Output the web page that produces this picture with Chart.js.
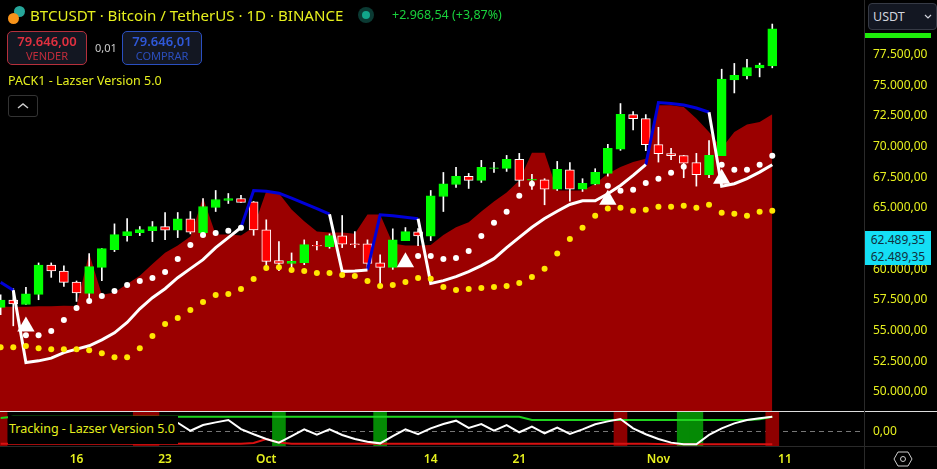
<!DOCTYPE html>
<html>
<head>
<meta charset="utf-8">
<title>BTCUSDT</title>
<script src="https://cdn.jsdelivr.net/npm/chart.js@4/dist/chart.umd.min.js"></script>
<style>
    html, body { margin: 0; padding: 0; background: #000; width: 937px; height: 469px; overflow: hidden; }
    body, div, span { font-family: "Noto Sans", sans-serif; }
    canvas { position: absolute; left: 0; display: block; }
    #main { top: 0; }
    #tracking { top: 412px; }
    .abs { position: absolute; white-space: nowrap; }
    .yellow { color: #e6f01e; }
    .quote { position: absolute; top: 31px; width: 78px; height: 32px; border-radius: 5px; background: #131722; text-align: center; }
    .quote b { display: block; font-weight: 600; font-size: 13px; line-height: 15px; margin-top: 2px; }
    .quote span { display: block; font-size: 11px; line-height: 13px; opacity: .85; }
</style>
</head>
<body>
<canvas id="main" width="937" height="412"></canvas>
<canvas id="tracking" width="937" height="57"></canvas>

<div class="abs" style="left:0;top:411px;width:937px;height:1px;background:#ddd"></div>
<div class="abs" style="left:0;top:446px;width:937px;height:1px;background:#2a2a2a"></div>
<div class="abs" style="left:864px;top:0;width:1px;height:469px;background:#2a2a2a"></div>

<div class="abs" style="left:14px;top:6px;width:11px;height:11px;border-radius:50%;background:#26a69a"></div>
<div class="abs" style="left:8px;top:13px;width:11px;height:11px;border-radius:50%;background:#f7931a"></div>
<div class="abs yellow" style="left:30px;top:4px;font-size:15.1px;line-height:22px">BTCUSDT · Bitcoin / TetherUS · 1D · BINANCE</div>
<div class="abs" style="left:358px;top:7px;width:16px;height:16px;border-radius:50%;background:#0b3a33"></div>
<div class="abs" style="left:362px;top:11px;width:8px;height:8px;border-radius:50%;background:#12a58a"></div>
<div class="abs" style="left:392px;top:6px;font-size:12.5px;line-height:18px;color:#19d13c">+2.968,54 (+3,87%)</div>

<div class="quote" style="left:7px;border:1px solid #b5303c;color:#e0303f"><b>79.646,00</b><span>VENDER</span></div>
<div class="abs" style="left:95px;top:41px;font-size:11px;line-height:14px;color:#ccc">0,01</div>
<div class="quote" style="left:122px;border:1px solid #2a4fc0;color:#2f58d8"><b>79.646,01</b><span>COMPRAR</span></div>
<div class="abs yellow" style="left:8px;top:72px;font-size:12.5px;line-height:18px">PACK1 - Lazser Version 5.0</div>
<div class="abs" style="left:8px;top:95px;width:28px;height:20px;border:1px solid #333;border-radius:3px;color:#ccc">
    <svg width="28" height="20"><path d="M9 12 L14 8 L19 12" fill="none" stroke="#ccc" stroke-width="1.5"/></svg>
</div>

<div class="abs" style="left:868px;top:3px;width:67px;height:25px;background:#131722;border:1px solid #363a45;border-radius:4px;color:#d1d4dc;font-size:12.5px;line-height:25px;text-indent:4px">USDT<svg style="position:absolute;right:4px;top:10px" width="8" height="6"><path d="M1 1 L4 4 L7 1" fill="none" stroke="#d1d4dc" stroke-width="1.2"/></svg></div>
<div class="abs" style="left:865px;top:33px;width:66px;height:5px;background:#1eee0a"></div>

<div class="abs" style="left:865px;top:231px;width:66px;height:34px;background:#14dff5;color:#103040;font-size:12px;line-height:17px;text-align:center">62.489,35<br>62.489,35</div>

<div class="abs yellow" style="left:8px;top:416px;width:170px;height:28px;background:#000;font-size:12.5px;line-height:26px;text-indent:1px">Tracking - Lazser Version 5.0</div>

<svg class="abs" style="left:893px;top:450px" width="20" height="18">
    <path d="M5 2 L15 2 L19 9 L15 16 L5 16 L1 9 Z" fill="none" stroke="#ccc" stroke-width="1"/>
    <circle cx="10" cy="9" r="2.5" fill="none" stroke="#ccc" stroke-width="1"/>
</svg>

<script>
    'use strict';

    // days counted from 11 Sep, one candle per day
    const days = [-1, 0, 1, 2, 3, 4, 5, 6, 7, 8, 9, 10, 11, 12, 13, 14, 15, 16, 17, 18, 19, 20,
        21, 22, 23, 24, 25, 26, 27, 28, 29, 30, 31, 32, 33, 34, 35, 36, 37, 38, 39, 40,
        41, 42, 43, 44, 45, 46, 47, 48, 49, 50, 51, 52, 53, 54, 55, 56, 57, 58, 59, 60];

    const tickDays = [5, 12, 20, 33, 40, 51, 61];
    const tickLabels = ['16', '23', 'Oct', '14', '21', 'Nov', '11'];
    const priceTicks = [50000, 52500, 55000, 57500, 60000, 62500, 65000, 67500, 70000, 72500, 75000, 77500];

    const opens = [56890, 57490, 57130, 57950, 60350, 59860, 58960, 58030, 60155, 61600, 62745, 62990,
        63155, 63480, 63180, 64110, 62990, 65035, 65605, 65770, 65500, 63210, 60700, 60480, 60540, 61950,
        61845, 62720, 62065, 62065, 60515, 60155, 62335, 63050, 62690, 65930, 66910, 67565, 67240, 68220,
        68220, 68955, 67265, 67295, 66530, 68110, 66530, 66935, 67810, 69795, 72605, 72280, 70155, 69420,
        69255, 68685, 67705, 69255, 75430, 75760, 76415, 76575];
    const closes = [57490, 57165, 58005, 60350, 59860, 58930, 58065, 60210, 61685, 62825, 63070, 63235,
        63480, 63180, 64110, 63015, 65115, 65685, 65770, 65440, 63210, 60645, 60480, 60645, 62010, 61905,
        62745, 62035, 62010, 60480, 60155, 62395, 63070, 62720, 65990, 66970, 67565, 67240, 68300, 68260,
        68955, 67240, 67320, 66530, 68135, 66530, 66995, 67890, 69855, 72630, 72280, 70155, 69420, 69255,
        68650, 67705, 69280, 75490, 75815, 76445, 76635, 79600];
    const highs = [57925, 58415, 58520, 60515, 60515, 60270, 59045, 61275, 61685, 63700, 64135, 63480,
        63890, 64625, 64625, 64705, 65770, 66420, 66175, 66015, 65520, 64030, 62255, 61330, 62395, 62280,
        62885, 64380, 63070, 62395, 61170, 63295, 63400, 63315, 66420, 67890, 68300, 67810, 68875, 68710,
        69280, 69445, 67730, 67380, 68790, 68685, 67380, 68195, 70180, 73505, 72850, 72605, 71570, 69855,
        69280, 69445, 70480, 76305, 76775, 77100, 76800, 79985];
    const lows = [56290, 55390, 57130, 57515, 59340, 58605, 57380, 57435, 59070, 61440, 62280, 62745,
        62255, 62420, 62580, 62885, 62990, 64705, 65360, 65440, 62770, 60105, 59885, 60105, 60375, 61575,
        61710, 61765, 61765, 59990, 58800, 59990, 62335, 61930, 62335, 64705, 66665, 66585, 67075, 67890,
        67975, 66750, 66505, 65255, 66420, 65550, 66340, 66885, 67590, 69690, 71350, 69665, 68735, 68930,
        67460, 66775, 67460, 69255, 74370, 75515, 75680, 76415];

    const cloudTop = [56945, 56945, 56945, 56990, 56990, 57030, 57000, 61275, 57925, 58115, 58800, 59475,
        60435, 61355, 61930, 62665, 65825, 62825, 62825, 62745, 63425, 66365, 66200, 64870, 63915, 63070,
        62990, 62990, 62885, 64460, 64460, 62090, 61930, 61930, 61985, 62800, 63425, 63830, 64705, 65525,
        66260, 67240, 69500, 69500, 66420, 66420, 66420, 66970, 67785, 68325, 68735, 69010, 73365, 73365,
        73225, 72280, 71185, 69855, 71185, 71790, 72000, 72630];

    // trailing line: the white side and the blue side share their joints
    const trailWhite = [null, 58295, 52395, 52535, 52755, 53210, 53490, 53760, 54250, 54820, 55660, 56780,
        57680, 58415, 59315, 60050, 60785, 61765, 62580, 63400, null, null, null, null, null, null,
        64485, 59830, 59860, 59945, null, null, null, 64110, 58850, 59070, 59395, 59805, 60295, 60865,
        61765, 62605, 63425, 64135, 64730, 65280, 65580, 65580, 66150, 66830, 67645, 68520, null, null,
        null, null, 72795, 66775, 66970, 67380, 67915, 68520];
    const trailBlue = [58930, 58295, null, null, null, null, null, null, null, null, null, null,
        null, null, null, null, null, null, null, 63400, 66420, 66365, 66200, 65795, 65360, 64950,
        64485, null, null, 59945, 64435, 64355, 64240, 64110, null, null, null, null, null, null,
        null, null, null, null, null, null, null, null, null, null, null, 68520, 73585, 73505,
        73390, 73145, 72795, null, null, null, null, null];

    const whiteDots = [null, null, 54630, 54630, 54960, 55860, 56840, 57410, 57820, 58225, 58715, 59045,
        59290, 59780, 60840, 61985, 62800, 62965, 63130, 63375, null, null, null, null, null, null,
        null, null, null, null, null, null, null, 61085, 61085, 60840, 60925, 61495, 62720, 63785,
        64680, 65990, 66970, null, null, null, null, null, 66805, 66395, 66480, 67020, 67380, 67870,
        68360, null, null, 68520, 68110, 68110, 68520, 69255];
    const yellowDots = [53650, 53650, 53735, 53570, 53490, 53490, 53490, 53405, 53160, 52835, 52835, 53570,
        54550, 55530, 56020, 56675, 57330, 57900, 57980, 58390, 59210, 60105, 60155, 59945, 59860, 59700,
        59700, 59535, 59455, 59045, 58635, 58715, 58960, 59290, 59230, 58555, 58310, 58390, 58470, 58555,
        58635, 58880, 59370, 60050, 61275, 62475, 63375, 64355, 64950, 65010, 64765, 64845, 65090, 65090,
        65170, 65010, 65255, 64600, 64520, 64355, 64680, 64765];

    const signalDays = [1, 31, 47, 56];
    const signalPrices = [55335, 60565, 65660, 67380];

    // lower pane
    const tracking = [null, null, null, null, null, null, null, null, null, null, null, null,
        null, null, 0.61, 0.04, 0.45, 0.64, 0.81, 0.16, -0.21, -0.55, -0.81, -0.34, 0.14, -0.24,
        0.14, -0.26, -0.55, -0.74, -0.86, -0.34, 0.14, -0.21, 0.21, 0.52, 0.76, 0.24, 0.52, 0.04,
        0.45, -0.07, 0.33, -0.14, 0.26, -0.19, 0.14, 0.5, 0.71, 0.88, 0.21, -0.21, -0.55, -0.81,
        -0.93, -0.93, -0.26, 0.21, 0.57, 0.81, 0.93, 1.04];
    const upperLimit = [0.95, 1.04, 1.04, 1.04, 1.04, 1.04, 1.04, 1.04, 1.04, 1.04, 1.04, 1.04,
        1.04, 1.04, 1.04, 1.04, 1.04, 1.04, 1.04, 1.04, 1.04, 1.04, 1.04, 1.04, 1.04, 1.04,
        1.04, 1.04, 1.04, 1.04, 1.04, 1.04, 1.04, 1.04, 1.04, 1.04, 1.04, 1.04, 1.04, 1.04,
        1.04, 1.04, 0.81, 0.81, 0.81, 0.81, 0.81, 0.81, 0.81, 0.81, 0.81, 0.81, 0.81, 0.81,
        0.81, 0.81, 0.81, 0.81, 0.81, 0.81, 0.86, 1.04];
    const lowerLimit = [-0.89, -0.89, -0.89, -0.89, -0.89, -0.89, -0.89, -0.89, -0.89, -0.89, -0.89, -0.89,
        -0.89, -0.89, -0.89, -0.89, -0.89, -0.89, -0.89, -0.89, -0.84, -0.55, -0.8, -0.89, -0.89, -0.89,
        -0.89, -0.89, -0.89, -0.89, -0.89, -0.89, -0.89, -0.89, -0.89, -0.89, -0.89, -0.89, -0.89, -0.89,
        -0.89, -0.89, -0.89, -0.89, -0.89, -0.89, -0.89, -0.89, -0.89, -0.89, -0.89, -0.89, -0.9, -0.92,
        -0.93, -0.93, -0.93, -0.93, -0.93, -0.93, -0.93, -0.93];
    const greenBands = [21, 29, 53, 54];
    const redBands = [-1, 10, 11, 48, 60];

    const YELLOW = '#e6f01e';
    const X_MIN = -1.05;
    const X_MAX = 67.33;
    const AXIS_WIDTH = 72;

    Chart.defaults.animation = false;
    Chart.defaults.font.family = '"Noto Sans", sans-serif';

    function series(values) {
        return days.map((d, i) => ({ x: d, y: values[i] }));
    }

    function formatPrice(v) {
        const parts = v.toFixed(2).split('.');
        return parts[0].replace(/\B(?=(\d{3})+$)/g, '.') + ',' + parts[1];
    }

    function rightAxisFit(scale) {
        scale.width = AXIS_WIDTH;
        scale.paddingTop = 0;
        scale.paddingBottom = 0;
    }

    function lineSet(values, color, width, order) {
        return { type: 'line', data: series(values), borderColor: color, borderWidth: width, pointRadius: 0,
            tension: 0, spanGaps: false, order: order };
    }

    function dotSet(values, color, order) {
        return { type: 'line', data: series(values), showLine: false, pointRadius: 3, pointBorderWidth: 0,
            pointBackgroundColor: color, order: order };
    }

    const baseOptions = {
        responsive: false,
        maintainAspectRatio: false,
        layout: { padding: 0, autoPadding: false },
        plugins: { legend: { display: false }, tooltip: { enabled: false } }
    };

    new Chart(document.getElementById('main'), {
        type: 'bar',
        data: {
            datasets: [
                {
                    // the cloud runs on flat past the left edge of the pane
                    type: 'line', data: [{ x: X_MIN, y: cloudTop[0] }].concat(series(cloudTop)),
                    borderWidth: 0, pointRadius: 0, tension: 0,
                    fill: 'start', backgroundColor: '#9b0000', order: 10
                },
                {
                    data: days.map((d, i) => ({ x: d, y: [lows[i], highs[i]] })),
                    backgroundColor: '#ffffff', barThickness: 1, grouped: false, order: 8
                },
                {
                    data: days.map((d, i) => ({ x: d, y: [opens[i], closes[i]] })),
                    backgroundColor: days.map((d, i) => closes[i] >= opens[i] ? '#00ff00' : '#ff0000'),
                    borderColor: days.map((d, i) => closes[i] >= opens[i] ? '#00ff00' : '#ffffff'),
                    borderWidth: 1, borderSkipped: false, barThickness: 9, grouped: false, order: 7
                },
                lineSet(trailBlue, '#0000d8', 3, 5),
                lineSet(trailWhite, '#ffffff', 3, 4),
                dotSet(whiteDots, '#ffffff', 3),
                dotSet(yellowDots, '#ffe600', 3),
                {
                    type: 'line', showLine: false, order: 1,
                    data: signalDays.map((d, i) => ({ x: d, y: signalPrices[i] })),
                    pointStyle: 'triangle', pointRadius: 10, pointBorderWidth: 0, pointBackgroundColor: '#ffffff'
                }
            ]
        },
        options: Object.assign({}, baseOptions, {
            scales: {
                x: { type: 'linear', display: false, offset: false, min: X_MIN, max: X_MAX },
                y: {
                    position: 'right', min: 48366, max: 81945,
                    afterBuildTicks: (scale) => { scale.ticks = priceTicks.map(v => ({ value: v })); },
                    afterFit: rightAxisFit,
                    grid: { display: false, drawTicks: false },
                    border: { display: false },
                    ticks: {
                        color: YELLOW, padding: 8, font: { size: 12 }, autoSkip: false,
                        callback: (v) => formatPrice(v)
                    }
                }
            }
        })
    });

    new Chart(document.getElementById('tracking'), {
        type: 'bar',
        data: {
            datasets: [
                {
                    data: greenBands.map(d => ({ x: d, y: [-1.06, 1.4] })),
                    backgroundColor: '#058a05', barThickness: 13, grouped: false, order: 6
                },
                {
                    data: redBands.map(d => ({ x: d, y: [-1.06, 1.4] })),
                    backgroundColor: '#8e0000', barThickness: 13, grouped: false, order: 6
                },
                lineSet(upperLimit, '#1fd41f', 2, 3),
                lineSet(lowerLimit, '#d81010', 2, 3),
                lineSet(tracking, '#ffffff', 2, 1)
            ]
        },
        options: Object.assign({}, baseOptions, {
            scales: {
                x: {
                    type: 'linear', offset: false, min: X_MIN, max: X_MAX,
                    afterBuildTicks: (scale) => { scale.ticks = tickDays.map(v => ({ value: v })); },
                    afterFit: (scale) => { scale.height = 23; scale.paddingLeft = 0; scale.paddingRight = 0; },
                    grid: { display: false, drawTicks: false },
                    border: { display: false },
                    ticks: {
                        color: YELLOW, padding: 6, autoSkip: false, maxRotation: 0,
                        font: { size: 12, weight: '600' },
                        callback: (v) => tickLabels[tickDays.indexOf(v)]
                    }
                },
                y: {
                    position: 'right', min: -1.05, max: 1.38,
                    afterBuildTicks: (scale) => { scale.ticks = [{ value: 0 }]; },
                    afterFit: rightAxisFit,
                    grid: { color: '#777777', drawTicks: false },
                    border: { display: false, dash: [5, 4] },
                    ticks: {
                        color: YELLOW, padding: 8, font: { size: 12 },
                        callback: (v) => formatPrice(v)
                    }
                }
            }
        })
    });
</script>
</body>
</html>
